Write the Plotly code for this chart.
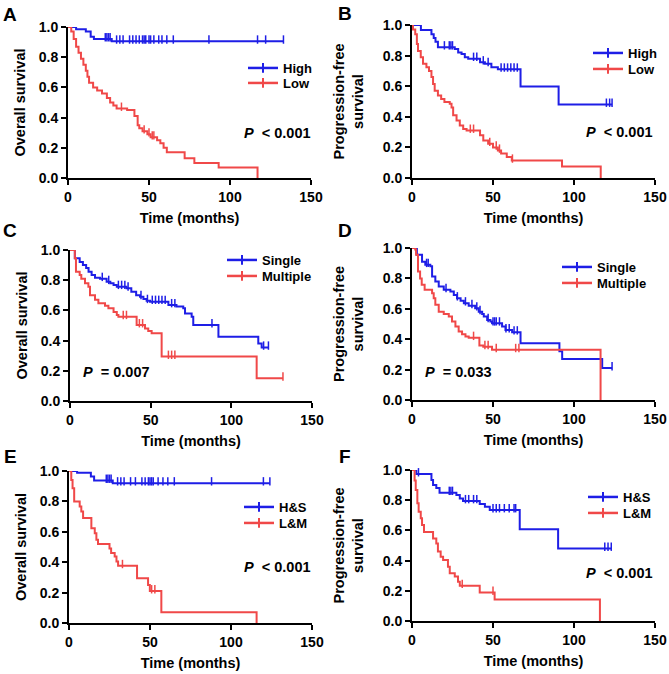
import numpy as np
import plotly.graph_objects as go

# ---------------- data ----------------
# Panel A (Overall survival, High vs Low)
a_high_t = [0, 5, 11, 14, 16, 27]
a_high_s = [1.0, 0.985, 0.97, 0.935, 0.92, 0.905]
a_high_c = [3, 23, 24, 25, 26, 30, 32, 34, 38, 40, 42, 44, 46, 47, 48, 50, 51, 53, 56, 58, 61, 65, 87, 117, 122, 133]
a_low_t = [0, 2, 3.5, 5, 6.5, 8, 9.5, 11, 12, 13, 15.5, 18, 21, 24, 26, 28, 30, 36.5, 41, 43, 44, 46, 49, 51, 55, 57, 59, 61, 72, 78, 93, 117]
a_low_s = [1.0, 0.97, 0.92, 0.87, 0.83, 0.79, 0.75, 0.71, 0.67, 0.63, 0.60, 0.58, 0.56, 0.53, 0.50, 0.48, 0.46, 0.45, 0.41, 0.35, 0.33, 0.31, 0.29, 0.27, 0.25, 0.23, 0.20, 0.17, 0.13, 0.10, 0.07, 0.0]
a_low_c = [33, 47, 50, 52, 53]

# Panel B (Progression-free survival, High vs Low)
b_high_t = [0, 5.5, 12, 13.4, 14.5, 16, 26.4, 28.5, 30.6, 32.6, 34.7, 42, 45, 49, 53, 67, 90.5]
b_high_s = [1.0, 0.967, 0.94, 0.915, 0.89, 0.855, 0.843, 0.82, 0.81, 0.79, 0.78, 0.757, 0.746, 0.724, 0.71, 0.598, 0.48]
b_high_c = [2, 3, 4, 20, 23, 24, 25, 38, 40, 44, 47, 55, 57, 59, 61, 63, 65, 120, 122, 123.5]
b_low_t = [0, 0.6, 2, 3, 3.7, 5.4, 6.8, 8.9, 10.5, 12, 13, 14, 16, 18, 20, 23.3, 24.4, 25.4, 27.5, 29.5, 31.6, 33.7, 42, 44, 47, 50, 53, 55, 58.5, 61.6, 92.6, 116.5]
b_low_s = [1.0, 0.97, 0.94, 0.876, 0.83, 0.79, 0.746, 0.724, 0.70, 0.66, 0.615, 0.57, 0.54, 0.517, 0.496, 0.485, 0.46, 0.41, 0.376, 0.343, 0.32, 0.31, 0.28, 0.245, 0.224, 0.20, 0.18, 0.16, 0.137, 0.115, 0.075, 0.0]
b_low_c = [36, 38, 48, 52, 54, 62]

# Panel C (Overall survival, Single vs Multiple)
c_single_t = [0, 3, 6, 8, 10, 11.5, 13.4, 15.5, 18.6, 22.7, 25, 27, 29, 35, 38, 41, 43.4, 45.5, 47.5, 49.6, 61, 66, 70.2, 71.3, 75.4, 76.4, 92, 116.7, 118.8]
c_single_s = [1.0, 0.945, 0.92, 0.90, 0.88, 0.856, 0.834, 0.817, 0.81, 0.79, 0.78, 0.768, 0.757, 0.746, 0.724, 0.70, 0.69, 0.675, 0.664, 0.658, 0.636, 0.625, 0.614, 0.58, 0.558, 0.503, 0.426, 0.38, 0.355]
c_single_c = [2, 20, 24, 30, 32, 34, 36, 44, 48, 51, 53, 55, 57, 59, 63, 65, 88, 120, 123]
c_multi_t = [0, 3, 3.7, 6, 7, 9.3, 11.4, 12.4, 15.5, 17.6, 21.7, 23.8, 27, 29, 30, 41.3, 46.5, 48.5, 50.6, 56.8, 115.7]
c_multi_s = [1.0, 0.945, 0.856, 0.834, 0.81, 0.78, 0.757, 0.70, 0.67, 0.647, 0.63, 0.614, 0.59, 0.57, 0.558, 0.503, 0.48, 0.464, 0.448, 0.294, 0.15]
c_multi_c = [33, 35, 43, 45, 61, 63, 65, 132]

# Panel D (Progression-free survival, Single vs Multiple)
d_single_t = [0, 3, 6.2, 8.2, 11.3, 12.4, 14.4, 16.5, 19.6, 23.7, 25.8, 27.8, 30, 32, 35, 39, 41.2, 43.3, 44.3, 46.4, 48.4, 49.4, 55.6, 57.7, 61.8, 67, 91, 92.7, 117.4]
d_single_s = [1.0, 0.956, 0.91, 0.89, 0.88, 0.813, 0.78, 0.747, 0.725, 0.714, 0.69, 0.67, 0.653, 0.637, 0.62, 0.604, 0.58, 0.565, 0.55, 0.527, 0.516, 0.505, 0.484, 0.46, 0.446, 0.374, 0.32, 0.27, 0.21]
d_single_c = [1, 2, 9, 10, 21, 28, 33, 37, 40, 42, 47, 50, 51, 52, 54, 58, 60, 63, 65, 123.5]
d_multi_t = [0, 2, 2.5, 3.7, 5, 6, 7.8, 12.4, 13.4, 14.4, 16.5, 19.6, 22.7, 24.7, 26.8, 28.8, 30.9, 33, 35, 41.6, 44, 49.4, 116.4]
d_multi_s = [1.0, 0.99, 0.956, 0.846, 0.80, 0.758, 0.725, 0.703, 0.67, 0.626, 0.58, 0.565, 0.55, 0.516, 0.484, 0.45, 0.433, 0.418, 0.41, 0.358, 0.35, 0.33, 0.0]
d_multi_c = [38, 45, 47, 52, 64, 66]

# Panel E (Overall survival, H&S vs L&M)
e_hs_t = [0, 5, 13.5, 15.5, 27]
e_hs_s = [1.0, 0.988, 0.963, 0.937, 0.92]
e_hs_c = [3, 23, 24, 25, 26, 30, 32, 34, 38, 41, 45, 47, 49, 50, 51, 52, 55, 58, 61, 65, 88, 120, 124]
e_lm_t = [0, 1.4, 2.2, 3.2, 6.6, 7.6, 8.7, 13.8, 15.9, 16.9, 17.9, 25, 26, 28.2, 29.3, 30.3, 42, 48.8, 49.9, 57, 115.8]
e_lm_s = [1.0, 0.94, 0.886, 0.80, 0.766, 0.733, 0.69, 0.624, 0.59, 0.547, 0.52, 0.49, 0.46, 0.437, 0.405, 0.376, 0.295, 0.25, 0.21, 0.07, 0.0]
e_lm_c = [33, 51, 53]

# Panel F (Progression-free survival, H&S vs L&M)
f_hs_t = [0, 2.7, 12, 13, 15, 17, 27.4, 29.5, 31.5, 41.8, 45, 48, 66.5, 90.2]
f_hs_s = [1.0, 0.973, 0.934, 0.90, 0.88, 0.85, 0.834, 0.812, 0.795, 0.775, 0.757, 0.735, 0.607, 0.48]
f_hs_c = [4, 23, 24, 25, 33, 35, 38, 40, 50, 52, 54, 57, 60, 63, 64, 119, 121, 123]
f_lm_t = [0, 1.6, 2.3, 3.3, 4.1, 5.4, 6.2, 7.4, 13, 15, 16, 17.7, 19.2, 22.2, 23.3, 26.4, 28.4, 29.5, 41.8, 51, 116]
f_lm_s = [1.0, 0.93, 0.868, 0.78, 0.724, 0.68, 0.636, 0.59, 0.547, 0.514, 0.46, 0.426, 0.404, 0.36, 0.316, 0.294, 0.26, 0.234, 0.188, 0.143, 0.0]
f_lm_c = [31, 50]

panel_letters = ["A", "B", "C", "D", "E", "F"]
y_titles = ["Overall survival", "Progression-free<br>survival"] * 3
x_title = "Time (months)"
p_texts = ["< 0.001", "< 0.001", "= 0.007", "= 0.033", "< 0.001", "< 0.001"]
group_names = [("High", "Low"), ("High", "Low"), ("Single", "Multiple"),
               ("Single", "Multiple"), ("H&S", "L&M"), ("H&S", "L&M")]
curves = [
    ((a_high_t, a_high_s, a_high_c), (a_low_t, a_low_s, a_low_c)),
    ((b_high_t, b_high_s, b_high_c), (b_low_t, b_low_s, b_low_c)),
    ((c_single_t, c_single_s, c_single_c), (c_multi_t, c_multi_s, c_multi_c)),
    ((d_single_t, d_single_s, d_single_c), (d_multi_t, d_multi_s, d_multi_c)),
    ((e_hs_t, e_hs_s, e_hs_c), (e_lm_t, e_lm_s, e_lm_c)),
    ((f_hs_t, f_hs_s, f_hs_c), (f_lm_t, f_lm_s, f_lm_c)),
]
x_ticks = [0, 50, 100, 150]
y_ticks = [0.0, 0.2, 0.4, 0.6, 0.8, 1.0]

# ---------------- layout helpers ----------------
W, H = 669, 674
BLUE = "#1e1ee6"
RED = "#f04848"
FONT = "Liberation Sans, Arial, sans-serif"

# plot areas in pixels: (left, right, top, bottom)
areas = [
    (68, 311, 27, 178), (412, 655, 25, 178),
    (70, 312, 250, 401), (412, 655, 248, 400),
    (69, 312, 471, 623), (412, 655, 470, 621),
]
# legend: (text start x, [center y of item 1, center y of item 2])
legend_pos = [(283, (68, 83)), (628, (53, 69)), (262, (260, 276)),
              (597, (267, 283)), (279, (507, 523)), (623, (497, 513))]
p_pos = [(277, 133), (619, 132), (116, 372), (458, 372), (277, 567), (619, 573)]
letter_pos = [(10, 14), (345, 13), (10, 230), (345, 230), (10, 456), (345, 456)]
ytitle_standoff = [10, 16] * 3


def px(x):
    return x / W


def py(y):
    return 1 - y / H


def step_value(t, s, at):
    idx = np.searchsorted(np.asarray(t), np.asarray(at), side="right") - 1
    return np.asarray(s)[idx]


fig = go.Figure()
layout_axes = {}
annotations = []
legends = {}
leg_count = 0

for i in range(6):
    n = i + 1
    xa = "x" if n == 1 else f"x{n}"
    ya = "y" if n == 1 else f"y{n}"
    l, r, t_, b = areas[i]
    for k, ((tt, ss, cc), color, name) in enumerate(zip(curves[i], (BLUE, RED), group_names[i])):
        end = max(max(tt), max(cc))
        xs = list(tt) + [end]
        ys = list(ss) + [ss[-1]]
        fig.add_trace(go.Scatter(
            x=xs, y=ys, mode="lines", line=dict(color=color, width=2, shape="hv"),
            xaxis=xa, yaxis=ya, showlegend=False, hoverinfo="skip", cliponaxis=False))
        cy = step_value(tt, ss, cc)
        fig.add_trace(go.Scatter(
            x=cc, y=cy + 0.012, mode="markers",
            marker=dict(symbol="line-ns", size=6, line=dict(color=color, width=1.5)),
            xaxis=xa, yaxis=ya, showlegend=False, hoverinfo="skip", cliponaxis=False))
        # legend entry (one legend box per entry for exact placement)
        leg_count += 1
        leg = "legend" if leg_count == 1 else f"legend{leg_count}"
        fig.add_trace(go.Scatter(
            x=[None], y=[None], mode="lines+markers", name=f"<b>{name}</b>",
            line=dict(color=color, width=2.5),
            marker=dict(symbol="line-ns", size=7, line=dict(color=color, width=2)),
            xaxis=xa, yaxis=ya, legend=leg, showlegend=True))
        tx, cys = legend_pos[i]
        legends[leg] = dict(
            x=px(tx - 40), y=py(cys[k]), xanchor="left", yanchor="middle",
            bgcolor="rgba(0,0,0,0)", font=dict(family=FONT, size=13, color="black"),
            itemwidth=30, itemclick=False, itemdoubleclick=False)

    xkey = "xaxis" if n == 1 else f"xaxis{n}"
    ykey = "yaxis" if n == 1 else f"yaxis{n}"
    layout_axes[xkey] = dict(
        domain=[px(l), px(r)], anchor=ya, range=[0, 150], tickvals=x_ticks,
        ticktext=[f"<b>{v}</b>" for v in x_ticks], automargin=False,
        showline=True, linecolor="black", linewidth=2, ticks="outside", ticklen=5,
        tickwidth=2, tickcolor="black", showgrid=False, zeroline=False,
        tickfont=dict(family=FONT, size=14, color="black"),
        title=dict(text=f"<b>{x_title}</b>", font=dict(family=FONT, size=14.5, color="black"), standoff=9),
        fixedrange=True)
    layout_axes[ykey] = dict(
        domain=[py(b), py(t_)], anchor=xa, range=[0, 1.0], tickvals=y_ticks,
        ticktext=[f"<b>{v:.1f}</b>" for v in y_ticks], automargin=False,
        showline=True, linecolor="black", linewidth=2, ticks="outside", ticklen=5,
        tickwidth=2, tickcolor="black", showgrid=False, zeroline=False,
        tickfont=dict(family=FONT, size=14, color="black"),
        title=dict(text=f"<b>{y_titles[i]}</b>", font=dict(family=FONT, size=14.5, color="black"),
                   standoff=ytitle_standoff[i]),
        fixedrange=True)
    annotations.append(dict(
        x=px(p_pos[i][0]), y=py(p_pos[i][1]), xref="paper", yref="paper",
        text=f"<b><i>P</i>  {p_texts[i].replace('<', '&lt;')}</b>", showarrow=False,
        font=dict(family=FONT, size=14.5, color="black"), xanchor="center", yanchor="middle"))
    annotations.append(dict(
        x=px(letter_pos[i][0]), y=py(letter_pos[i][1]), xref="paper", yref="paper",
        text=f"<b>{panel_letters[i]}</b>", showarrow=False,
        font=dict(family=FONT, size=19, color="black"), xanchor="center", yanchor="middle"))

fig.update_layout(
    width=W, height=H, margin=dict(l=0, r=0, t=0, b=0, autoexpand=False),
    paper_bgcolor="white", plot_bgcolor="white", showlegend=True,
    annotations=annotations, **layout_axes, **legends)

fig.write_html("out.html", config={"displayModeBar": False},
               post_script="document.body.style.margin='0px';document.body.style.overflow='hidden';")
